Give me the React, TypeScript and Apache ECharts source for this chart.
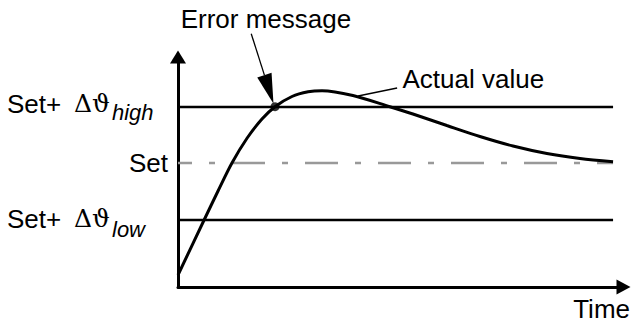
import React, { useEffect, useRef } from "react";
import * as echarts from "echarts";

// Time axis (0..100 = end of plotted range) and actual value (arbitrary units)
const timeValues = [0, 6.0, 9.2, 12.4, 15.9, 19.3, 22.3, 26.2, 29.9, 33.1, 40.2, 48.7, 54.0, 61.8, 69.4, 77.0, 84.8, 92.4, 100];
const actualValues = [12, 67, 96, 124, 149, 168, 180.3, 190.5, 195.2, 196.3, 191.5, 180.3, 173, 161.5, 150.5, 141, 133.5, 128.5, 125.3];

const thresholdHigh = 180;
const setValue = 124;
const thresholdLow = 67;
const timeEnd = 100;
const errorPoint = [22.3, 180.3];
const actualLabelAnchor = [41.4, 191];

const labelTexts = {
  error: "Error message",
  actual: "Actual value",
  time: "Time",
  set: "Set",
  setPlus: "Set+",
  delta: "Δϑ",
  high: "high",
  low: "low",
};

const FONT = "'Liberation Sans', Arial, Helvetica, sans-serif";
const SYM_FONT = "'DejaVu Serif', 'Liberation Serif', serif";

export default function App() {
  const ref = useRef<HTMLDivElement>(null);

  useEffect(() => {
    if (!ref.current) return;
    const chart = echarts.init(ref.current, null, { renderer: "svg" });
    const curve = timeValues.map((t, i) => [t, actualValues[i]]);
    const option: any = {
      animation: false,
      grid: { left: 178, right: 7.5, top: 57, bottom: 37 },
      xAxis: {
        type: "value",
        min: 0,
        max: 102.4,
        axisLine: {
          show: true,
          onZero: false,
          symbol: ["none", "triangle"],
          symbolSize: [15, 14],
          lineStyle: { color: "#000", width: 3 },
        },
        axisTick: { show: false },
        axisLabel: { show: false },
        splitLine: { show: false },
      },
      yAxis: {
        type: "value",
        min: 0,
        max: 230,
        axisLine: {
          show: true,
          onZero: false,
          symbol: ["none", "triangle"],
          symbolSize: [16, 13],
          lineStyle: { color: "#000", width: 3 },
        },
        axisTick: { show: false },
        axisLabel: { show: false },
        splitLine: { show: false },
      },
      series: [
        {
          type: "line",
          data: [[0, thresholdHigh], [timeEnd, thresholdHigh]],
          showSymbol: false,
          symbol: "none",
          lineStyle: { color: "#000", width: 2.5 },
          silent: true,
        },
        {
          type: "line",
          data: [[0, setValue], [timeEnd, setValue]],
          showSymbol: false,
          symbol: "none",
          lineStyle: { color: "#999", width: 2.5, type: [33, 17, 6, 17], dashOffset: 19 },
          silent: true,
        },
        {
          type: "line",
          data: [[0, thresholdLow], [timeEnd, thresholdLow]],
          showSymbol: false,
          symbol: "none",
          lineStyle: { color: "#000", width: 2.5 },
          silent: true,
        },
        {
          type: "line",
          data: curve,
          smooth: 0.3,
          showSymbol: false,
          symbol: "none",
          lineStyle: { color: "#000", width: 3 },
          silent: true,
          z: 3,
        },
        {
          type: "scatter",
          data: [errorPoint],
          symbol: "circle",
          symbolSize: 9,
          itemStyle: { color: "#000" },
          silent: true,
          z: 4,
        },
      ],
    };
    chart.setOption(option);

    const px = (p: number[]) => chart.convertToPixel({ gridIndex: 0 }, p) as number[];
    const yHigh = px([0, thresholdHigh])[1];
    const ySet = px([0, setValue])[1];
    const yLow = px([0, thresholdLow])[1];
    const dot = px(errorPoint);
    const anchor = px(actualLabelAnchor);

    // error message arrow
    const tip = [dot[0] - 1.5, dot[1] - 3];
    const start = [tip[0] - 22.3, tip[1] - 70];
    const dx = tip[0] - start[0];
    const dy = tip[1] - start[1];
    const len = Math.sqrt(dx * dx + dy * dy);
    const ux = dx / len;
    const uy = dy / len;
    const headLen = 30;
    const headHalf = 7.5;
    const base = [tip[0] - ux * headLen, tip[1] - uy * headLen];
    const b1 = [base[0] + uy * headHalf, base[1] - ux * headHalf];
    const b2 = [base[0] - uy * headHalf, base[1] + ux * headHalf];

    const txt = (text: string, x: number, y: number, extra: any = {}) => ({
      type: "text",
      x,
      y,
      silent: true,
      style: {
        text,
        fill: "#000",
        font: `26px ${FONT}`,
        textAlign: "left",
        textVerticalAlign: "middle",
        ...extra,
      },
    });

    const labelRow = (yLine: number, mainOff: number, subOff: number, sub: string) => [
      txt(labelTexts.setPlus, 7, yLine + mainOff),
      txt(labelTexts.delta, 74, yLine + mainOff, { font: `25px ${SYM_FONT}` }),
      txt(sub, 112, yLine + subOff, { font: `italic 22px ${FONT}` }),
    ];

    chart.setOption({
      graphic: [
        ...labelRow(yHigh, -3.5, 5.5, labelTexts.high),
        txt(labelTexts.set, 168, ySet, { textAlign: "right" }),
        ...labelRow(yLow, -1.5, 9.5, labelTexts.low),
        txt(labelTexts.error, 180.7, 19),
        txt(labelTexts.actual, 402.5, 79),
        txt(labelTexts.time, 630, 309, { textAlign: "right" }),
        {
          type: "line",
          silent: true,
          shape: { x1: start[0], y1: start[1], x2: base[0], y2: base[1] },
          style: { stroke: "#000", lineWidth: 1.3 },
        },
        {
          type: "polygon",
          silent: true,
          shape: { points: [tip, b1, b2] },
          style: { fill: "#000" },
        },
        {
          type: "line",
          silent: true,
          shape: { x1: anchor[0], y1: anchor[1], x2: anchor[0] + 39, y2: anchor[1] - 8 },
          style: { stroke: "#000", lineWidth: 1.3 },
        },
      ],
    });

    return () => chart.dispose();
  }, []);

  return (
    <div
      ref={ref}
      style={{ position: "fixed", left: 0, top: 0, width: 631, height: 324, background: "#fff" }}
    />
  );
}
